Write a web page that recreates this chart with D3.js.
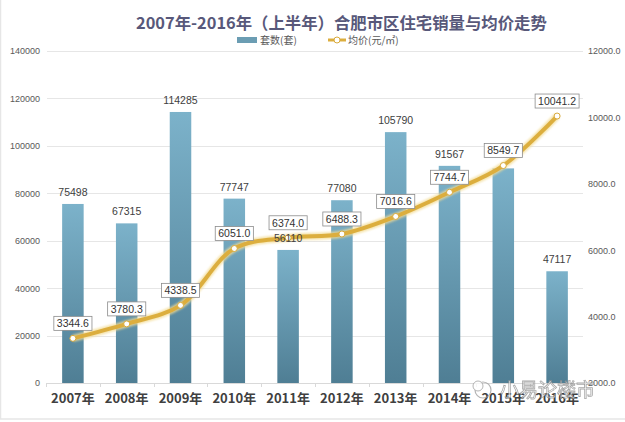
<!DOCTYPE html>
<html><head><meta charset="utf-8">
<script src="https://cdn.jsdelivr.net/npm/d3@7"></script>
<style>
html,body{margin:0;padding:0;background:#fff;}
svg{display:block;font-family:"Microsoft YaHei","Noto Sans CJK SC","Noto Sans",sans-serif;}
</style></head>
<body>
<svg id="chart" width="625" height="422"></svg>
<script>
const categories = ["2007年","2008年","2009年","2010年","2011年","2012年","2013年","2014年","2015年","2016年"];
const sales = [75498, 67315, 114285, 77747, 56110, 77080, 105790, 91567, 90500, 47117];
const salesLabelShown = [true,true,true,true,true,true,true,true,false,true];
const prices = [3344.6, 3780.3, 4338.5, 6051.0, 6374.0, 6488.3, 7016.6, 7744.7, 8549.7, 10041.2];
const leftTicks = [0,20000,40000,60000,80000,100000,120000,140000];
const rightTicks = [2000,4000,6000,8000,10000,12000];
const titleText = "2007年-2016年（上半年）合肥市区住宅销量与均价走势";
const seriesNames = ["套数(套)", "均价(元/㎡)"];

const svg = d3.select("#chart");
const W = 625, H = 422;
const plot = {left: 46, right: 584, top: 51, bottom: 383};

// frame
svg.append("rect").attr("x",0.5).attr("y",-2).attr("width",W+2).attr("height",421)
  .attr("fill","none").attr("stroke","#e6e6e6").attr("stroke-width",1.5);

const x = d3.scaleBand().domain(categories).range([plot.left, plot.right]).paddingInner(0.6).paddingOuter(0.3);
const yL = d3.scaleLinear().domain([0,140000]).range([plot.bottom, plot.top]);
const yR = d3.scaleLinear().domain([2000,12000]).range([plot.bottom, plot.top]);

const defs = svg.append("defs");
const grad = defs.append("linearGradient").attr("id","barGrad").attr("x1",0).attr("y1",0).attr("x2",0).attr("y2",1);
grad.append("stop").attr("offset","0%").attr("stop-color","#7cb2ca");
grad.append("stop").attr("offset","100%").attr("stop-color","#4f7e94");
const glow = defs.append("filter").attr("id","glow").attr("x","-10%").attr("y","-10%").attr("width","120%").attr("height","120%");
glow.append("feGaussianBlur").attr("stdDeviation",1.2);

// gridlines
svg.append("g").selectAll("line").data(leftTicks.filter(d=>d>0)).join("line")
  .attr("x1",plot.left+1).attr("x2",plot.right-1)
  .attr("y1",d=>Math.round(yL(d))+0.5).attr("y2",d=>Math.round(yL(d))+0.5)
  .attr("stroke","#e6e6e6").attr("stroke-width",1);

// left axis labels
const axL = d3.axisLeft(yL).tickValues(leftTicks).tickSize(0).tickPadding(6).tickFormat(d3.format("d"));
const gL = svg.append("g").attr("transform",`translate(${plot.left},0)`).call(axL);
gL.select(".domain").remove();
gL.selectAll("text").attr("font-size",9).attr("fill","#595959").attr("font-family","Liberation Sans, sans-serif");

// right axis labels
const axR = d3.axisRight(yR).tickValues(rightTicks).tickSize(0).tickPadding(4).tickFormat(d3.format(".1f"));
const gR = svg.append("g").attr("transform",`translate(${plot.right},0)`).call(axR);
gR.select(".domain").remove();
gR.selectAll("text").attr("font-size",9).attr("fill","#595959").attr("font-family","Liberation Sans, sans-serif");

// bars
const barData = sales.map((v,i)=>({cat:categories[i], v, show:salesLabelShown[i]}));
svg.append("g").selectAll("rect").data(barData).join("rect")
  .attr("x",d=>x(d.cat)).attr("width",x.bandwidth())
  .attr("y",d=>yL(d.v)).attr("height",d=>yL(0)-yL(d.v))
  .attr("fill","url(#barGrad)");

// baseline + category ticks
svg.append("line").attr("x1",plot.left).attr("x2",plot.right)
  .attr("y1",plot.bottom+0.5).attr("y2",plot.bottom+0.5).attr("stroke","#d9d9d9");
const step = x.step();
const boundaries = categories.map(c=>x(c) - (step-x.bandwidth())/2);
boundaries.push(x(categories[categories.length-1]) + x.bandwidth() + (step-x.bandwidth())/2);
svg.append("g").selectAll("line").data(boundaries).join("line")
  .attr("x1",d=>Math.round(d)+0.5).attr("x2",d=>Math.round(d)+0.5)
  .attr("y1",plot.bottom).attr("y2",plot.bottom+4).attr("stroke","#d9d9d9");

// x labels
svg.append("g").selectAll("text").data(categories).join("text")
  .attr("x",d=>x(d)+x.bandwidth()/2).attr("y",403)
  .attr("text-anchor","middle").attr("font-size",13).attr("font-weight","bold")
  .attr("fill","#404040").text(d=>d);

// price line
const cx = i => x(categories[i]) + x.bandwidth()/2;
const line = d3.line().x((d,i)=>cx(i)).y(d=>yR(d)).curve(d3.curveCatmullRom.alpha(0.5));
svg.append("path").datum(prices).attr("d",line).attr("fill","none")
  .attr("stroke","#f3dc94").attr("stroke-width",7).attr("filter","url(#glow)").attr("opacity",0.8);
svg.append("path").datum(prices).attr("d",line).attr("fill","none")
  .attr("stroke","#dcae3e").attr("stroke-width",4).attr("stroke-linecap","round");
svg.append("g").selectAll("circle").data(prices).join("circle")
  .attr("cx",(d,i)=>cx(i)).attr("cy",d=>yR(d)).attr("r",3)
  .attr("fill","#fff").attr("stroke","#d8a93a").attr("stroke-width",1);

// bar value labels (drawn over the line)
svg.append("g").selectAll("text").data(barData.filter(d=>d.show)).join("text")
  .attr("x",d=>x(d.cat)+x.bandwidth()/2).attr("y",d=>yL(d.v)-8)
  .attr("text-anchor","middle").attr("font-size",10.5).attr("fill","#404040")
  .attr("font-family","Liberation Sans, sans-serif")
  .text(d=>d.v);

// price labels in boxes
const pl = svg.append("g").selectAll("g").data(prices).join("g")
  .attr("transform",(d,i)=>`translate(${cx(i)},${yR(d)-15})`);
pl.append("rect").attr("fill","#fff").attr("stroke","#8c8c8c").attr("stroke-width",0.8);
pl.append("text").attr("text-anchor","middle").attr("dy","0.36em")
  .attr("font-size",10.5).attr("fill","#333").attr("font-family","Liberation Sans, sans-serif")
  .text(d=>d.toFixed(1));
pl.each(function(){
  const g = d3.select(this);
  const w = g.select("text").node().getComputedTextLength();
  g.select("rect").attr("x",-w/2-3).attr("y",-7).attr("width",w+6).attr("height",14);
});

// title
const title = svg.append("text").attr("x",136).attr("y",29)
  .attr("font-size",17).attr("font-weight","bold").attr("fill","#58587a").text(titleText);
const tw = title.node().getComputedTextLength();
title.attr("font-size",17*411/tw);

// legend
svg.append("rect").attr("x",237).attr("y",37).attr("width",20).attr("height",6).attr("fill","#6b9db3");
svg.append("text").attr("x",260).attr("y",44).attr("font-size",10).attr("fill","#595959").text(seriesNames[0]);
svg.append("line").attr("x1",328).attr("x2",346).attr("y1",40).attr("y2",40).attr("stroke","#dcae3e").attr("stroke-width",3);
svg.append("circle").attr("cx",337).attr("cy",40).attr("r",3).attr("fill","#fff").attr("stroke","#d8a93a");
svg.append("text").attr("x",348).attr("y",44).attr("font-size",10).attr("fill","#595959").text(seriesNames[1]);

// watermark
const wm = svg.append("g").attr("opacity",0.75);
wm.append("circle").attr("cx",483).attr("cy",390).attr("r",8).attr("fill","none").attr("stroke","#9a9a9a").attr("stroke-width",1.2);
wm.append("circle").attr("cx",478).attr("cy",386).attr("r",5).attr("fill","#fff").attr("stroke","#9a9a9a").attr("stroke-width",1);
wm.append("text").attr("x",500).attr("y",397).attr("font-size",19).attr("fill","#fff")
  .attr("stroke","#8a8a8a").attr("stroke-width",0.8).text("小易论楼市");
</script>
</body></html>
